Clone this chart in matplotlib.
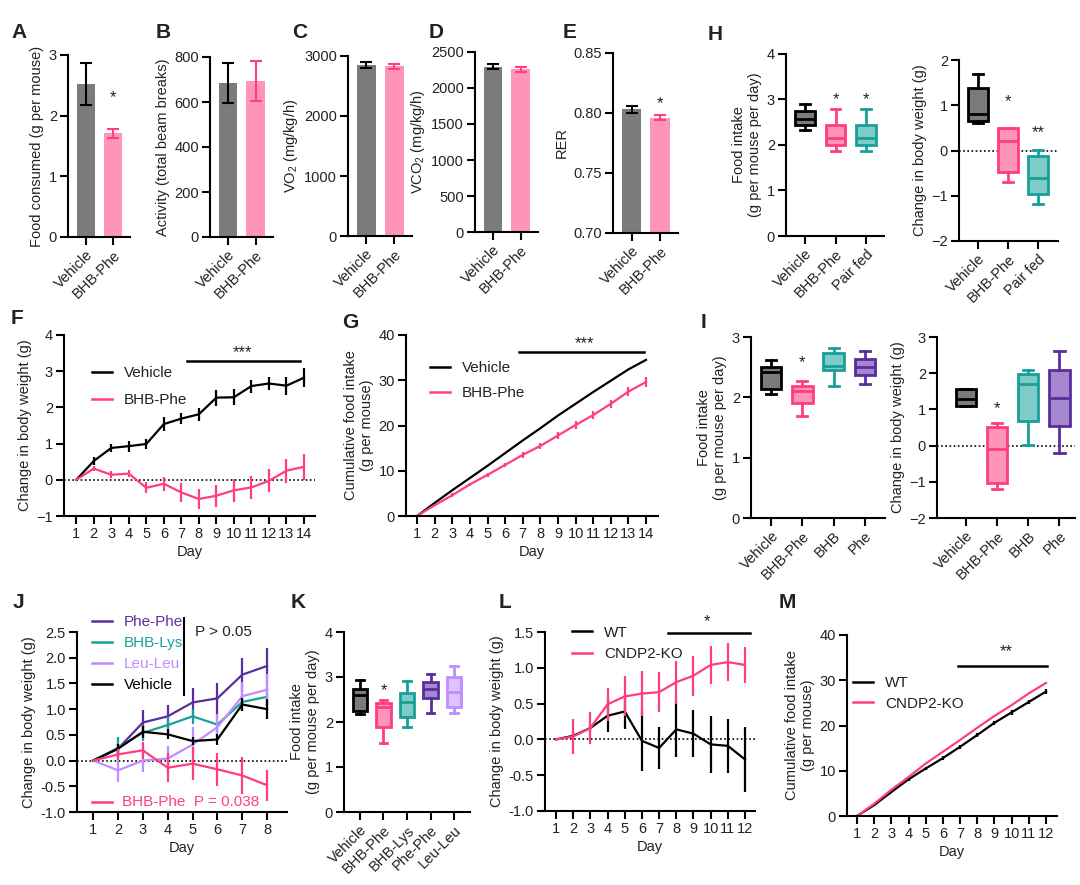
import matplotlib.pyplot as plt
import numpy as np

plt.rcParams['font.family'] = ['Liberation Sans', 'DejaVu Sans']
plt.rcParams['font.size'] = 10.5
plt.rcParams['mathtext.default'] = 'regular'
plt.rcParams['text.color'] = '#222222'
plt.rcParams['axes.labelcolor'] = '#222222'
plt.rcParams['axes.labelpad'] = 3

GRAY = '#7b7b7b'
PINK = '#ff3d7f'
PINK_FILL = '#ff94ba'
TEAL = '#17a09a'
TEAL_FILL = '#7fcbc7'
PURPLE = '#5b2d9e'
PURPLE_FILL = '#a387cf'
LPURPLE = '#c08cff'
LPURPLE_FILL = '#dcc2ff'

# ---- bar panels A-E ----
bar_groups = ['Vehicle', 'BHB-Phe']
food_consumed = [2.52, 1.71]
food_consumed_err = [0.35, 0.07]
activity = [685, 693]
activity_err = [90, 90]
vo2 = [2850, 2830]
vo2_err = [45, 40]
vco2 = [2295, 2260]
vco2_err = [35, 35]
rer = [0.803, 0.796]
rer_err = [0.003, 0.002]

# ---- box panels: [whisker low, q1, median, q3, whisker high] ----
h_groups = ['Vehicle', 'BHB-Phe', 'Pair fed']
h_intake = [[2.33, 2.43, 2.58, 2.75, 2.90],
            [1.86, 2.00, 2.15, 2.45, 2.80],
            [1.86, 2.00, 2.15, 2.45, 2.80]]
h_weight = [[0.60, 0.66, 0.80, 1.38, 1.70],
            [-0.70, -0.48, 0.20, 0.49, 0.49],
            [-1.19, -0.97, -0.61, -0.12, 0.01]]

i_groups = ['Vehicle', 'BHB-Phe', 'BHB', 'Phe']
i_intake = [[2.05, 2.14, 2.42, 2.50, 2.62],
            [1.69, 1.90, 2.10, 2.18, 2.27],
            [2.18, 2.46, 2.52, 2.74, 2.82],
            [2.22, 2.37, 2.51, 2.64, 2.76]]
i_weight = [[1.10, 1.10, 1.30, 1.56, 1.56],
            [-1.20, -1.02, -0.10, 0.52, 0.62],
            [0.01, 0.68, 1.71, 1.98, 2.09],
            [-0.20, 0.54, 1.31, 2.08, 2.60]]

k_groups = ['Vehicle', 'BHB-Phe', 'BHB-Lys', 'Phe-Phe', 'Leu-Leu']
k_intake = [[2.17, 2.24, 2.61, 2.73, 2.93],
            [1.53, 1.89, 2.33, 2.42, 2.50],
            [1.88, 2.11, 2.44, 2.64, 2.91],
            [2.20, 2.53, 2.73, 2.90, 3.07],
            [2.20, 2.33, 2.67, 3.01, 3.24]]

# ---- F / G: 14 days ----
days14 = np.arange(1, 15)
f_vehicle = [0, 0.52, 0.88, 0.93, 0.99, 1.54, 1.69, 1.81, 2.27, 2.28, 2.59, 2.66, 2.60, 2.82]
f_vehicle_err = [0, 0.12, 0.12, 0.15, 0.15, 0.2, 0.15, 0.18, 0.22, 0.22, 0.18, 0.18, 0.25, 0.27]
f_bhbphe = [0, 0.31, 0.14, 0.17, -0.22, -0.11, -0.35, -0.53, -0.44, -0.29, -0.21, -0.03, 0.25, 0.36]
f_bhbphe_err = [0, 0.06, 0.1, 0.1, 0.15, 0.2, 0.25, 0.28, 0.3, 0.32, 0.32, 0.32, 0.33, 0.36]
g_vehicle = [0, 2.9, 5.7, 8.4, 11.1, 13.9, 16.7, 19.4, 22.2, 24.8, 27.4, 29.9, 32.4, 34.5]
g_bhbphe = [0, 2.4, 4.6, 7.0, 9.1, 11.3, 13.5, 15.5, 17.8, 20.1, 22.3, 24.8, 27.5, 29.6]
g_bhbphe_err = [0, 0.3, 0.4, 0.4, 0.5, 0.5, 0.6, 0.6, 0.7, 0.8, 0.8, 0.9, 1.0, 1.1]

# ---- J: 8 days ----
days8 = np.arange(1, 9)
j_phephe = [0, 0.23, 0.74, 0.86, 1.13, 1.21, 1.67, 1.84]
j_phephe_err = [0, 0.1, 0.25, 0.22, 0.28, 0.3, 0.33, 0.35]
j_bhblys = [0, 0.25, 0.54, 0.69, 0.86, 0.70, 1.14, 1.24]
j_bhblys_err = [0, 0.2, 0.15, 0.15, 0.15, 0.18, 0.15, 0.18]
j_leuleu = [0, -0.19, 0.0, 0.04, 0.31, 0.65, 1.25, 1.38]
j_leuleu_err = [0, 0.22, 0.22, 0.25, 0.35, 0.25, 0.28, 0.3]
j_vehicle = [0, 0.23, 0.56, 0.51, 0.38, 0.41, 1.09, 1.00]
j_vehicle_err = [0, 0.1, 0.12, 0.1, 0.08, 0.1, 0.12, 0.2]
j_bhbphe = [0, 0.12, 0.20, -0.14, -0.06, -0.17, -0.29, -0.48]
j_bhbphe_err = [0, 0.1, 0.17, 0.28, 0.32, 0.32, 0.36, 0.3]

# ---- L / M: 12 days ----
days12 = np.arange(1, 13)
l_wt = [0, 0.05, 0.16, 0.33, 0.39, -0.02, -0.12, 0.14, 0.08, -0.07, -0.09, -0.28]
l_wt_err = [0, 0.05, 0.05, 0.23, 0.25, 0.42, 0.3, 0.38, 0.33, 0.4, 0.38, 0.45]
l_ko = [0, 0.04, 0.16, 0.49, 0.60, 0.64, 0.66, 0.80, 0.89, 1.04, 1.08, 1.04]
l_ko_err = [0, 0.25, 0.22, 0.23, 0.28, 0.32, 0.28, 0.3, 0.28, 0.27, 0.26, 0.25]
m_wt = [0, 2.4, 5.3, 8.1, 10.5, 12.8, 15.3, 17.9, 20.6, 22.9, 25.2, 27.5]
m_wt_err = [0, 0.2, 0.3, 0.3, 0.3, 0.4, 0.4, 0.5, 0.5, 0.5, 0.5, 0.6]
m_ko = [0, 2.7, 5.8, 8.6, 11.6, 14.2, 16.8, 19.5, 22.1, 24.5, 27.1, 29.4]

W, H = 1080, 885
fig = plt.figure(figsize=(10.8, 8.85), dpi=100)


def px_axes(x0, y0, x1, y1):
    return fig.add_axes([x0 / W, 1 - y1 / H, (x1 - x0) / W, (y1 - y0) / H])


def style(ax):
    for s in ['top', 'right']:
        ax.spines[s].set_visible(False)
    for s in ['left', 'bottom']:
        ax.spines[s].set_linewidth(1.5)
    ax.tick_params(direction='out', width=1.5, length=6, pad=2, labelsize=10.5,
                   labelcolor='#222222')


def letter(x, y, s):
    fig.text(x / W, 1 - y / H, s, fontsize=15, fontweight='bold', va='center', ha='center',
             color='#222222')


def zero_line(ax):
    ax.axhline(0, color='black', ls=(0, (1, 1.5)), lw=1.2, zorder=0.5)


def rot_labels(ax, labels):
    ax.set_xticks(range(len(labels)), labels, rotation=45, ha='right', rotation_mode='anchor')


def bar_panel(rect, means, errs, ylim, yticks, ylabel, ylabels=None):
    ax = px_axes(*rect)
    style(ax)
    x = np.arange(len(means))
    ax.bar(x, means, width=0.67, color=[GRAY, PINK_FILL])
    for xi, m, e, c in zip(x, means, errs, ['black', PINK]):
        ax.errorbar(xi, m, yerr=e, color=c, capsize=4, elinewidth=1.5, capthick=1.5)
    ax.set_xlim(-0.65, 1.63)
    ax.set_ylim(*ylim)
    if ylabels is None:
        ax.set_yticks(yticks)
    else:
        ax.set_yticks(yticks, ylabels)
    rot_labels(ax, bar_groups)
    ax.set_ylabel(ylabel)
    return ax


def box_panel(ax, stats, edges, fills, width=0.65):
    bstats = [dict(whislo=s[0], q1=s[1], med=s[2], q3=s[3], whishi=s[4]) for s in stats]
    b = ax.bxp(bstats, positions=range(len(stats)), widths=width, patch_artist=True,
               showfliers=False)
    for i, (e, f) in enumerate(zip(edges, fills)):
        b['boxes'][i].set(facecolor=f, edgecolor=e, linewidth=2)
        b['medians'][i].set(color=e, linewidth=2)
        for w in b['whiskers'][2 * i:2 * i + 2]:
            w.set(color=e, linewidth=2)
        for c in b['caps'][2 * i:2 * i + 2]:
            c.set(color=e, linewidth=2)


def line_err(ax, x, y, err, color, label=None):
    ax.plot(x, y, color=color, lw=1.6, label=label)
    if err is not None:
        ax.errorbar(x, y, yerr=err, fmt='none', ecolor=color, elinewidth=1.6, capsize=0)


def sig_legend(ax, anchor, spacing, colors=None):
    kw = dict(loc='upper left', bbox_to_anchor=anchor, frameon=False, handlelength=1.3,
              handletextpad=0.8, fontsize=11, labelspacing=spacing, borderaxespad=0,
              borderpad=0)
    if colors is not None:
        kw['labelcolor'] = colors
    leg = ax.legend(**kw)
    for h in leg.legend_handles:
        h.set_linewidth(1.8)


# ================= row 1 =================
ax = bar_panel((68, 55, 130, 237), food_consumed, food_consumed_err, (0, 3), [0, 1, 2, 3],
               'Food consumed (g per mouse)')
ax.text(1, 2.3, '*', ha='center', va='center', fontsize=12)
bar_panel((210, 57, 273, 237), activity, activity_err, (0, 800), [0, 200, 400, 600, 800],
          'Activity (total beam breaks)')
bar_panel((348, 56, 412, 236), vo2, vo2_err, (0, 3000), [0, 1000, 2000, 3000],
          'VO$_2$ (mg/kg/h)')
bar_panel((475, 52, 538, 232), vco2, vco2_err, (0, 2500), [0, 500, 1000, 1500, 2000, 2500],
          'VCO$_2$ (mg/kg/h)')
ax = bar_panel((613, 53, 678, 233), rer, rer_err, (0.70, 0.85), [0.70, 0.75, 0.80, 0.85], 'RER',
               ['0.70', '0.75', '0.80', '0.85'])
ax.text(1, 0.8075, '*', ha='center', va='center', fontsize=12)

h_edges = ['black', PINK, TEAL]
h_fills = [GRAY, PINK_FILL, TEAL_FILL]
ax = px_axes(786, 54, 885, 236)
style(ax)
box_panel(ax, h_intake, h_edges, h_fills)
ax.set_xlim(-0.62, 2.62)
ax.set_ylim(0, 4)
ax.set_yticks([0, 1, 2, 3, 4])
ax.spines['bottom'].set_linestyle((0, (1, 1)))
rot_labels(ax, h_groups)
ax.set_ylabel('Food intake\n(g per mouse per day)')
for xi in [1, 2]:
    ax.text(xi, 2.99, '*', ha='center', va='center', fontsize=12)

ax = px_axes(959, 60, 1058, 241)
style(ax)
zero_line(ax)
box_panel(ax, h_weight, h_edges, h_fills)
ax.set_xlim(-0.63, 2.67)
ax.set_ylim(-2, 2)
ax.set_yticks([-2, -1, 0, 1, 2])
rot_labels(ax, h_groups)
ax.set_ylabel('Change in body weight (g)')
ax.text(1, 1.08, '*', ha='center', va='center', fontsize=12)
ax.text(2, 0.4, '**', ha='center', va='center', fontsize=12)

# ================= row 2 =================
ax = px_axes(64, 335, 315, 516)
style(ax)
zero_line(ax)
line_err(ax, days14, f_vehicle, f_vehicle_err, 'black', 'Vehicle')
line_err(ax, days14, f_bhbphe, f_bhbphe_err, PINK, 'BHB-Phe')
ax.set_xlim(0.3, 14.63)
ax.set_ylim(-1, 4)
ax.set_yticks([-1, 0, 1, 2, 3, 4])
ax.set_xticks(days14)
ax.set_xlabel('Day')
ax.set_ylabel('Change in body weight (g)')
ax.plot([7.3, 13.8], [3.28, 3.28], color='black', lw=1.8)
ax.text(10.5, 3.5, '***', ha='center', va='center', fontsize=12)
sig_legend(ax, (0.112, 0.826), 0.83)

ax = px_axes(406, 335, 658, 516)
style(ax)
line_err(ax, days14, g_vehicle, None, 'black', 'Vehicle')
line_err(ax, days14, g_bhbphe, g_bhbphe_err, PINK, 'BHB-Phe')
ax.set_xlim(0.37, 14.68)
ax.set_ylim(0, 40)
ax.set_yticks([0, 10, 20, 30, 40])
ax.set_xticks(days14)
ax.spines['bottom'].set_linestyle((0, (1, 1)))
ax.set_xlabel('Day')
ax.set_ylabel('Cumulative food intake\n(g per mouse)')
ax.plot([6.8, 13.9], [36.3, 36.3], color='black', lw=1.8)
ax.text(10.5, 38.0, '***', ha='center', va='center', fontsize=12)
sig_legend(ax, (0.095, 0.854), 0.7)

i_edges = ['black', PINK, TEAL, PURPLE]
i_fills = [GRAY, PINK_FILL, TEAL_FILL, PURPLE_FILL]
ax = px_axes(751, 337, 885, 518)
style(ax)
box_panel(ax, i_intake, i_edges, i_fills)
ax.set_xlim(-0.65, 3.65)
ax.set_ylim(0, 3)
ax.set_yticks([0, 1, 2, 3])
ax.spines['bottom'].set_linestyle((0, (1, 1)))
rot_labels(ax, i_groups)
ax.set_ylabel('Food intake\n(g per mouse per day)')
ax.text(1, 2.58, '*', ha='center', va='center', fontsize=12)

ax = px_axes(937, 337, 1075, 518)
style(ax)
zero_line(ax)
box_panel(ax, i_weight, i_edges, i_fills)
ax.set_xlim(-0.94, 3.5)
ax.set_ylim(-2, 3)
ax.set_yticks([-2, -1, 0, 1, 2, 3])
rot_labels(ax, i_groups)
ax.set_ylabel('Change in body weight (g)')
ax.text(1, 1.02, '*', ha='center', va='center', fontsize=12)

# ================= row 3 =================
ax = px_axes(77, 632, 287, 812)
style(ax)
zero_line(ax)
line_err(ax, days8, j_phephe, j_phephe_err, PURPLE, 'Phe-Phe')
line_err(ax, days8, j_bhblys, j_bhblys_err, TEAL, 'BHB-Lys')
line_err(ax, days8, j_leuleu, j_leuleu_err, LPURPLE, 'Leu-Leu')
line_err(ax, days8, j_vehicle, j_vehicle_err, 'black', 'Vehicle')
line_err(ax, days8, j_bhbphe, j_bhbphe_err, PINK)
ax.set_xlim(0.35, 8.8)
ax.set_ylim(-1, 2.5)
ax.set_yticks(np.arange(-1, 2.51, 0.5), ['-1.0', '-0.5', '0.0', '0.5', '1.0', '1.5', '2.0', '2.5'])
ax.set_xticks(days8)
ax.set_xlabel('Day')
ax.set_ylabel('Change in body weight (g)')
sig_legend(ax, (0.071, 1.092), 0.45, [PURPLE, TEAL, LPURPLE, 'black'])
ax.plot([4.67, 4.67], [1.27, 2.77], color='black', lw=1.5, clip_on=False)
ax.text(5.1, 2.5, 'P > 0.05', ha='left', va='center', fontsize=11)
ax.plot([0.96, 1.77], [-0.8, -0.8], color=PINK, lw=1.8, clip_on=False)
ax.text(2.17, -0.8, 'BHB-Phe  P = 0.038', ha='left', va='center', fontsize=11, color=PINK)

k_edges = ['black', PINK, TEAL, PURPLE, LPURPLE]
k_fills = [GRAY, PINK_FILL, TEAL_FILL, PURPLE_FILL, LPURPLE_FILL]
ax = px_axes(344, 632, 470, 812)
style(ax)
box_panel(ax, k_intake, k_edges, k_fills, width=0.6)
ax.set_xlim(-0.68, 4.68)
ax.set_ylim(0, 4)
ax.set_yticks([0, 1, 2, 3, 4])
rot_labels(ax, k_groups)
ax.set_ylabel('Food intake\n(g per mouse per day)')
ax.text(1, 2.7, '*', ha='center', va='center', fontsize=12)

ax = px_axes(545, 632, 755, 811)
style(ax)
zero_line(ax)
line_err(ax, days12, l_wt, l_wt_err, 'black', 'WT')
line_err(ax, days12, l_ko, l_ko_err, PINK, 'CNDP2-KO')
ax.set_xlim(0.36, 12.58)
ax.set_ylim(-1, 1.5)
ax.set_yticks(np.arange(-1, 1.51, 0.5), ['-1.0', '-0.5', '0.0', '0.5', '1.0', '1.5'])
ax.set_xticks(days12)
ax.set_xlabel('Day')
ax.set_ylabel('Change in body weight (g)')
ax.plot([7.5, 12.3], [1.48, 1.48], color='black', lw=1.8)
ax.text(9.8, 1.64, '*', ha='center', va='center', fontsize=12)
sig_legend(ax, (0.129, 1.036), 0.5)

ax = px_axes(847, 635, 1057, 816)
style(ax)
line_err(ax, days12, m_wt, m_wt_err, 'black', 'WT')
line_err(ax, days12, m_ko, None, PINK, 'CNDP2-KO')
ax.set_xlim(0.42, 12.64)
ax.set_ylim(0, 40)
ax.set_yticks([0, 10, 20, 30, 40])
ax.set_xticks(days12)
ax.spines['bottom'].set_linestyle((0, (1, 1)))
ax.set_xlabel('Day')
ax.set_ylabel('Cumulative food intake\n(g per mouse)')
ax.plot([6.9, 12.05], [33.1, 33.1], color='black', lw=1.8)
ax.text(9.7, 36.3, '**', ha='center', va='center', fontsize=12)
sig_legend(ax, (0.029, 0.771), 0.4)

# panel letters
letter(19, 33, 'A')
letter(163, 33, 'B')
letter(300, 33, 'C')
letter(436, 33, 'D')
letter(570, 33, 'E')
letter(715, 35, 'H')
letter(17, 318, 'F')
letter(350, 323, 'G')
letter(703, 323, 'I')
letter(18, 603, 'J')
letter(298, 603, 'K')
letter(505, 603, 'L')
letter(787, 603, 'M')

fig.savefig('out.png', dpi=100)
